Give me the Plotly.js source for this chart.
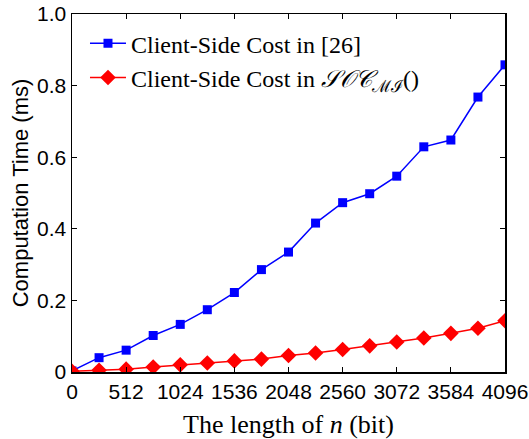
<!DOCTYPE html>
<html>
<head>
<meta charset="utf-8">
<script src="https://cdn.plot.ly/plotly-3.0.1.min.js"></script>
<style>html,body{margin:0;padding:0;background:#fff;}#chart{width:529px;height:439px;}</style>
</head>
<body>
<div id="chart"></div>
<script>
var bitLengths = [0,256,512,768,1024,1280,1536,1792,2048,2304,2560,2816,3072,3328,3584,3840,4096];
var costRef26 = [0.003,0.040,0.061,0.102,0.133,0.174,0.222,0.286,0.335,0.416,0.473,0.498,0.547,0.629,0.648,0.768,0.858];
var costSOC = [0.002,0.005,0.008,0.014,0.020,0.025,0.031,0.036,0.046,0.053,0.063,0.073,0.084,0.095,0.108,0.122,0.143];
var xTickVals = [0,512,1024,1536,2048,2560,3072,3584,4096];
var yTickVals = [0,0.2,0.4,0.6,0.8,1.0];
var yTickText = ["0","0.2","0.4","0.6","0.8","1.0"];
var seriesNames = ["Client-Side Cost in [26]", "Client-Side Cost in <i>𝒮𝒪𝒞</i><sub>ℳℐ</sub>()"];

var traces = [
  {x: bitLengths, y: costRef26, name: seriesNames[0], type: 'scatter', mode: 'lines+markers',
   line: {color: '#0000ff', width: 1.5}, marker: {symbol: 'square', size: 9, color: '#0000ff'}},
  {x: bitLengths, y: costSOC, name: seriesNames[1], type: 'scatter', mode: 'lines+markers',
   line: {color: '#ff0000', width: 1.5}, marker: {symbol: 'diamond', size: 12, color: '#ff0000'}}
];

var layout = {
  width: 529, height: 439,
  margin: {l: 72, r: 24, t: 14, b: 67},
  paper_bgcolor: '#fff', plot_bgcolor: '#fff',
  showlegend: true,
  legend: {x: 0.03, y: 0.98, xanchor: 'left', yanchor: 'top', bgcolor: 'rgba(0,0,0,0)',
           font: {family: 'Liberation Serif, DejaVu Serif, serif', size: 24, color: '#000'},
           tracegroupgap: 0, itemwidth: 36},
  xaxis: {range: [0, 4096], tickvals: xTickVals, ticktext: xTickVals.map(String),
          ticks: 'inside', ticklen: 5, tickwidth: 1.2, tickcolor: '#000',
          showline: true, linecolor: '#000', linewidth: 1.5, mirror: 'ticks',
          showgrid: false, zeroline: false,
          tickfont: {family: 'Liberation Sans, Arial, sans-serif', size: 21, color: '#000'},
          title: {text: 'The length of <i>n</i> (bit)', standoff: 16,
                  font: {family: 'Liberation Serif, DejaVu Serif, serif', size: 26, color: '#000'}}},
  yaxis: {range: [0, 1.0], tickvals: yTickVals, ticktext: yTickText,
          ticks: 'inside', ticklen: 5, tickwidth: 1.2, tickcolor: '#000',
          showline: true, linecolor: '#000', linewidth: 1.5, mirror: 'ticks',
          showgrid: false, zeroline: false,
          tickfont: {family: 'Liberation Sans, Arial, sans-serif', size: 21, color: '#000'},
          title: {text: 'Computation Time (ms)', standoff: 2,
                  font: {family: 'Liberation Sans, Arial, sans-serif', size: 22, color: '#000'}}}
};

Plotly.newPlot('chart', traces, layout, {displayModeBar: false, staticPlot: true});
</script>
</body>
</html>
